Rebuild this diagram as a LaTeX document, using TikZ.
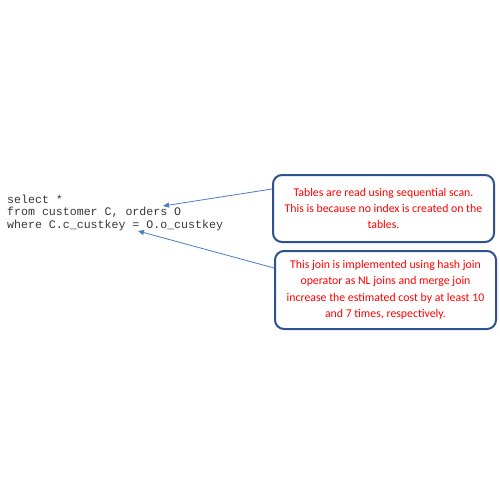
\documentclass[tikz,border=0pt]{standalone}
\usepackage{fontspec}
\setmainfont{Carlito}
\newfontfamily\codefont{Liberation Mono}
\usetikzlibrary{arrows.meta}
\definecolor{boxborder}{RGB}{47,82,143}
\definecolor{arrowblue}{RGB}{74,126,187}
\definecolor{codegray}{RGB}{55,55,55}
\tikzset{
  notebox/.style={draw=boxborder, line width=2pt, rounded corners=9pt, fill=white,
    text=red, align=center, font=\fontsize{11.8}{16.3}\selectfont, inner sep=0pt},
  pointer/.style={draw=arrowblue, line width=0.8pt, -{Triangle[width=5pt,length=6pt]}},
  codetext/.style={anchor=base west, align=left, inner sep=0pt, text=codegray,
    font=\codefont\fontsize{11.6}{12.5}\selectfont}
}
\begin{document}
\begin{tikzpicture}[x=1pt,y=-1pt]
\useasboundingbox (0,0) rectangle (500,500);
\node[codetext] (code) at (7,228) {select *\\from customer C, orders O\\where C.c\_custkey = O.o\_custkey};
\node[notebox, minimum width=221pt, minimum height=67pt] (b1) at (383.5,208.5)
  {Tables are read using sequential scan.\\This is because no index is created on the\\tables.};
\node[notebox, minimum width=221pt, minimum height=78pt] (b2) at (385.5,290)
  {This join is implemented using hash join\\operator as NL joins and merge join\\increase the estimated cost by at least 10\\and 7 times, respectively.};
\coordinate (s1) at (b1.west |- 0,189);
\coordinate (t1) at (163,206);
\coordinate (s2) at (b2.west |- 0,268);
\coordinate (t2) at (138,231);
\draw[pointer] (s1) -- (t1);
\draw[pointer] (s2) -- (t2);
\end{tikzpicture}
\end{document}
